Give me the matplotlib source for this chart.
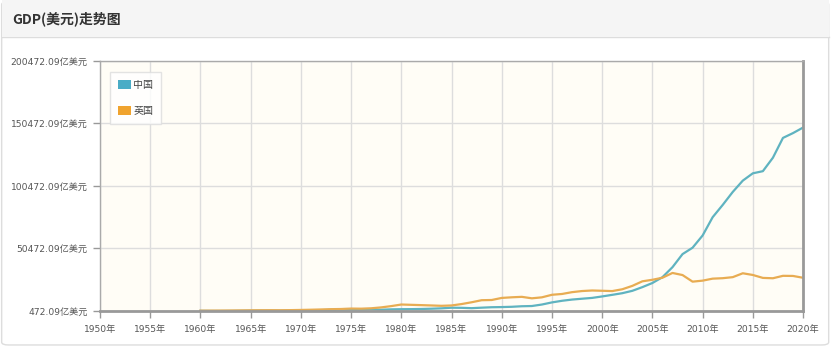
import matplotlib
matplotlib.use("Agg")
import matplotlib.pyplot as plt
from matplotlib.patches import FancyBboxPatch, Rectangle, Patch
from matplotlib.lines import Line2D

plt.rcParams['font.family'] = ['DejaVu Sans', 'Noto Sans CJK SC']

# GDP, 亿美元
years = list(range(1960, 2021))
china = [597, 500, 472.09, 507, 592, 704, 767, 727, 700, 793,
         926, 998, 1137, 1385, 1442, 1630, 1539, 1749, 1495, 1783,
         1911, 1960, 2090, 2302, 2599, 3094, 3008, 2730, 3123, 3477,
         3609, 3834, 4269, 4447, 5643, 7340, 8637, 9616, 10290, 10940,
         12113, 13394, 14705, 16603, 19553, 22860, 27521, 35522, 45982, 51100,
         60872, 75515, 85322, 95704, 104757, 110616, 112333, 123104, 138948, 142799,
         147227]
uk = [730, 777, 815, 867, 940, 1010, 1068, 1111, 1076, 1167,
      1311, 1483, 1695, 1926, 2061, 2411, 2321, 2639, 3354, 4385,
      5647, 5404, 5154, 4897, 4613, 4893, 6017, 7452, 9104, 9266,
      10930, 11426, 11794, 10615, 11402, 13442, 14087, 15541, 16439, 16873,
      16651, 16402, 17849, 20560, 24214, 25439, 27085, 30902, 29227, 23946,
      24754, 26347, 26709, 27538, 30650, 29289, 26945, 26660, 28608, 28511,
      27044]
x_ticks = list(range(1950, 2021, 5))
y_ticks = [472.09, 50472.09, 100472.09, 150472.09, 200472.09]

fig = plt.figure(figsize=(8.32, 3.52), dpi=100)
fig.patch.set_facecolor('white')

# panel frame and header
fig.patches.append(FancyBboxPatch((0.002, 0.02), 0.994, 0.975, boxstyle="round,pad=0,rounding_size=0.008",
                                  transform=fig.transFigure, facecolor='white', edgecolor='#dddddd',
                                  lw=1, zorder=-2))
fig.patches.append(Rectangle((0.002, 0.895), 0.994, 0.105, transform=fig.transFigure,
                             facecolor='#f5f5f5', edgecolor='none', zorder=-1))
fig.lines.append(Line2D([0.002, 0.996], [0.895, 0.895], transform=fig.transFigure,
                        color='#dddddd', lw=1, zorder=-1))
fig.text(0.015, 0.948, 'GDP(美元)走势图', fontsize=10, fontweight='bold', color='#333333',
         va='center', ha='left', family=['Noto Sans CJK SC', 'DejaVu Sans'])

ax = fig.add_axes([0.1202, 0.1165, 0.845, 0.7102])
ax.set_facecolor('#fffdf6')
ax.plot(years, china, color='#5fb3c0', lw=1.6, solid_joinstyle='round')
ax.plot(years, uk, color='#e8ac52', lw=1.6, solid_joinstyle='round')

ax.set_xlim(1950, 2020)
ax.set_ylim(472.09, 200472.09)
ax.set_xticks(x_ticks)
ax.set_xticklabels([f'{y}年' for y in x_ticks])
ax.set_yticks(y_ticks)
ax.set_yticklabels([f'{v:.2f}亿美元' for v in y_ticks])
ax.tick_params(axis='both', labelsize=6.6, colors='#999999', labelcolor='#555555', length=5, width=1)
ax.tick_params(axis='y', pad=4)
ax.tick_params(axis='x', pad=5)
ax.grid(True, color='#dddddd', lw=1)
ax.set_axisbelow(True)
for s in ['left', 'top']:
    ax.spines[s].set_color('#aaaaaa')
    ax.spines[s].set_linewidth(1)
for s in ['right', 'bottom']:
    ax.spines[s].set_color('#999999')
    ax.spines[s].set_linewidth(2)

leg = ax.legend(handles=[Patch(facecolor='#4aacc6', edgecolor='none', label='中国'),
                         Patch(facecolor='#f0a32e', edgecolor='none', label='英国')],
                loc='upper left', bbox_to_anchor=(0.0145, 0.955), fontsize=7.2, frameon=True,
                fancybox=False, handlelength=1.3, handleheight=1.0, borderpad=0.8,
                labelspacing=1.6, handletextpad=0.2, borderaxespad=0)
leg.get_frame().set_edgecolor('#dddddd')
leg.get_frame().set_facecolor('white')
for t in leg.get_texts():
    t.set_color('#444444')

fig.savefig('out.png', dpi=100)
